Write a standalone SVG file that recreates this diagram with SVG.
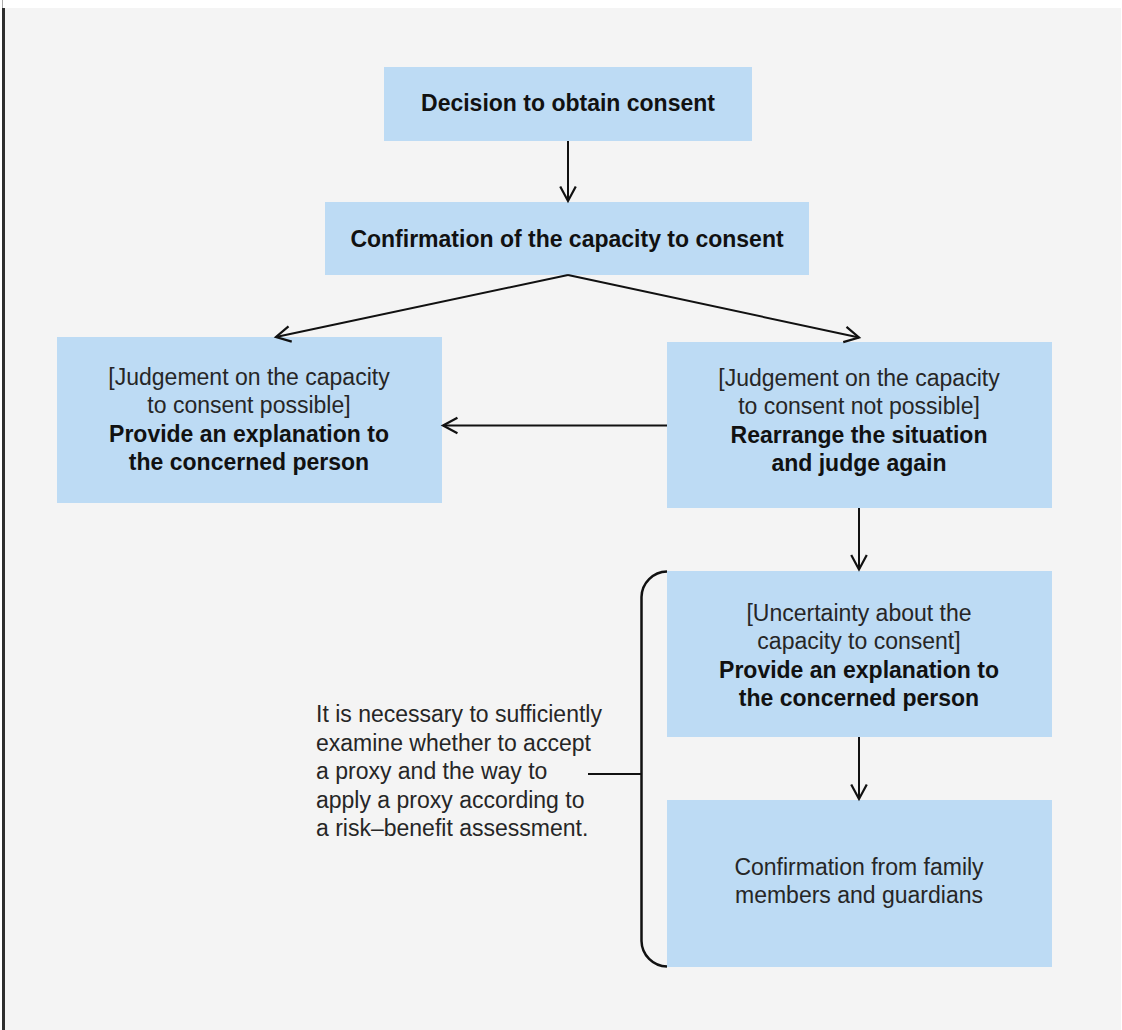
<svg xmlns="http://www.w3.org/2000/svg" width="1122" height="1030" viewBox="0 0 1122 1030">
<defs>
<style>
.box{fill:#bddbf4;}
.t{font-family:"Liberation Sans",Arial,Helvetica,sans-serif;font-size:23px;text-anchor:middle;}
.lt{fill:#262626;}
.bd{fill:#111;font-weight:bold;}
.note{font-family:"Liberation Sans",Arial,Helvetica,sans-serif;font-size:23px;fill:#262626;}
.ln{fill:none;stroke:#111;stroke-width:2;}
</style>
<marker id="arr" markerUnits="userSpaceOnUse" markerWidth="20" markerHeight="20" viewBox="-15 -9 17 18" refX="0" refY="0" orient="auto">
<path d="M -13 -7 L 0 0 L -13 7" fill="none" stroke="#111" stroke-width="2"/>
</marker>
</defs>
<rect x="0" y="0" width="1122" height="1030" fill="#ffffff"/>
<rect x="5" y="8" width="1116" height="1022" fill="#f4f4f4"/>
<rect x="2" y="0" width="1" height="8" fill="#aaaaaa"/>
<rect x="2" y="8" width="3" height="1022" fill="#2e2e2e"/>

<g id="n1">
<rect class="box" x="384" y="67" width="368" height="74"/>
<text class="t bd" x="568" y="111">Decision to obtain consent</text>
</g>
<g id="n2">
<rect class="box" x="325" y="202" width="484" height="73"/>
<text class="t bd" x="567" y="247">Confirmation of the capacity to consent</text>
</g>
<g id="n3">
<rect class="box" x="57" y="337" width="385" height="166"/>
<text class="t lt" x="249" y="385">[Judgement on the capacity</text>
<text class="t lt" x="249" y="413">to consent possible]</text>
<text class="t bd" x="249" y="442">Provide an explanation to</text>
<text class="t bd" x="249" y="470">the concerned person</text>
</g>
<g id="n4">
<rect class="box" x="667" y="342" width="385" height="166"/>
<text class="t lt" x="859" y="386">[Judgement on the capacity</text>
<text class="t lt" x="859" y="414">to consent not possible]</text>
<text class="t bd" x="859" y="443">Rearrange the situation</text>
<text class="t bd" x="859" y="471">and judge again</text>
</g>
<g id="n5">
<rect class="box" x="667" y="571" width="385" height="166"/>
<text class="t lt" x="859" y="621">[Uncertainty about the</text>
<text class="t lt" x="859" y="649">capacity to consent]</text>
<text class="t bd" x="859" y="678">Provide an explanation to</text>
<text class="t bd" x="859" y="706">the concerned person</text>
</g>
<g id="n6">
<rect class="box" x="667" y="800" width="385" height="167"/>
<text class="t lt" x="859" y="875">Confirmation from family</text>
<text class="t lt" x="859" y="903">members and guardians</text>
</g>
<g id="note">
<text class="note" x="316" y="722">It is necessary to sufficiently</text>
<text class="note" x="316" y="750.5">examine whether to accept</text>
<text class="note" x="316" y="779">a proxy and the way to</text>
<text class="note" x="316" y="807.5">apply a proxy according to</text>
<text class="note" x="316" y="836">a risk–benefit assessment.</text>
</g>
<g id="connectors">
<line class="ln" x1="568" y1="141" x2="568" y2="201" marker-end="url(#arr)"/>
<line class="ln" x1="568" y1="275" x2="276" y2="337" marker-end="url(#arr)"/>
<line class="ln" x1="568" y1="275" x2="859" y2="337.5" marker-end="url(#arr)"/>
<line class="ln" x1="667" y1="425.5" x2="443" y2="425.5" marker-end="url(#arr)"/>
<line class="ln" x1="859" y1="508" x2="859" y2="569.5" marker-end="url(#arr)"/>
<line class="ln" x1="859" y1="737" x2="859" y2="799" marker-end="url(#arr)"/>
<path d="M 667 571.5 A 26 26 0 0 0 641.5 597 V 941 A 26 26 0 0 0 667 966.5" fill="none" stroke="#111" stroke-width="2.5"/>
<line class="ln" x1="588" y1="774" x2="641.5" y2="774"/>
</g>
</svg>
